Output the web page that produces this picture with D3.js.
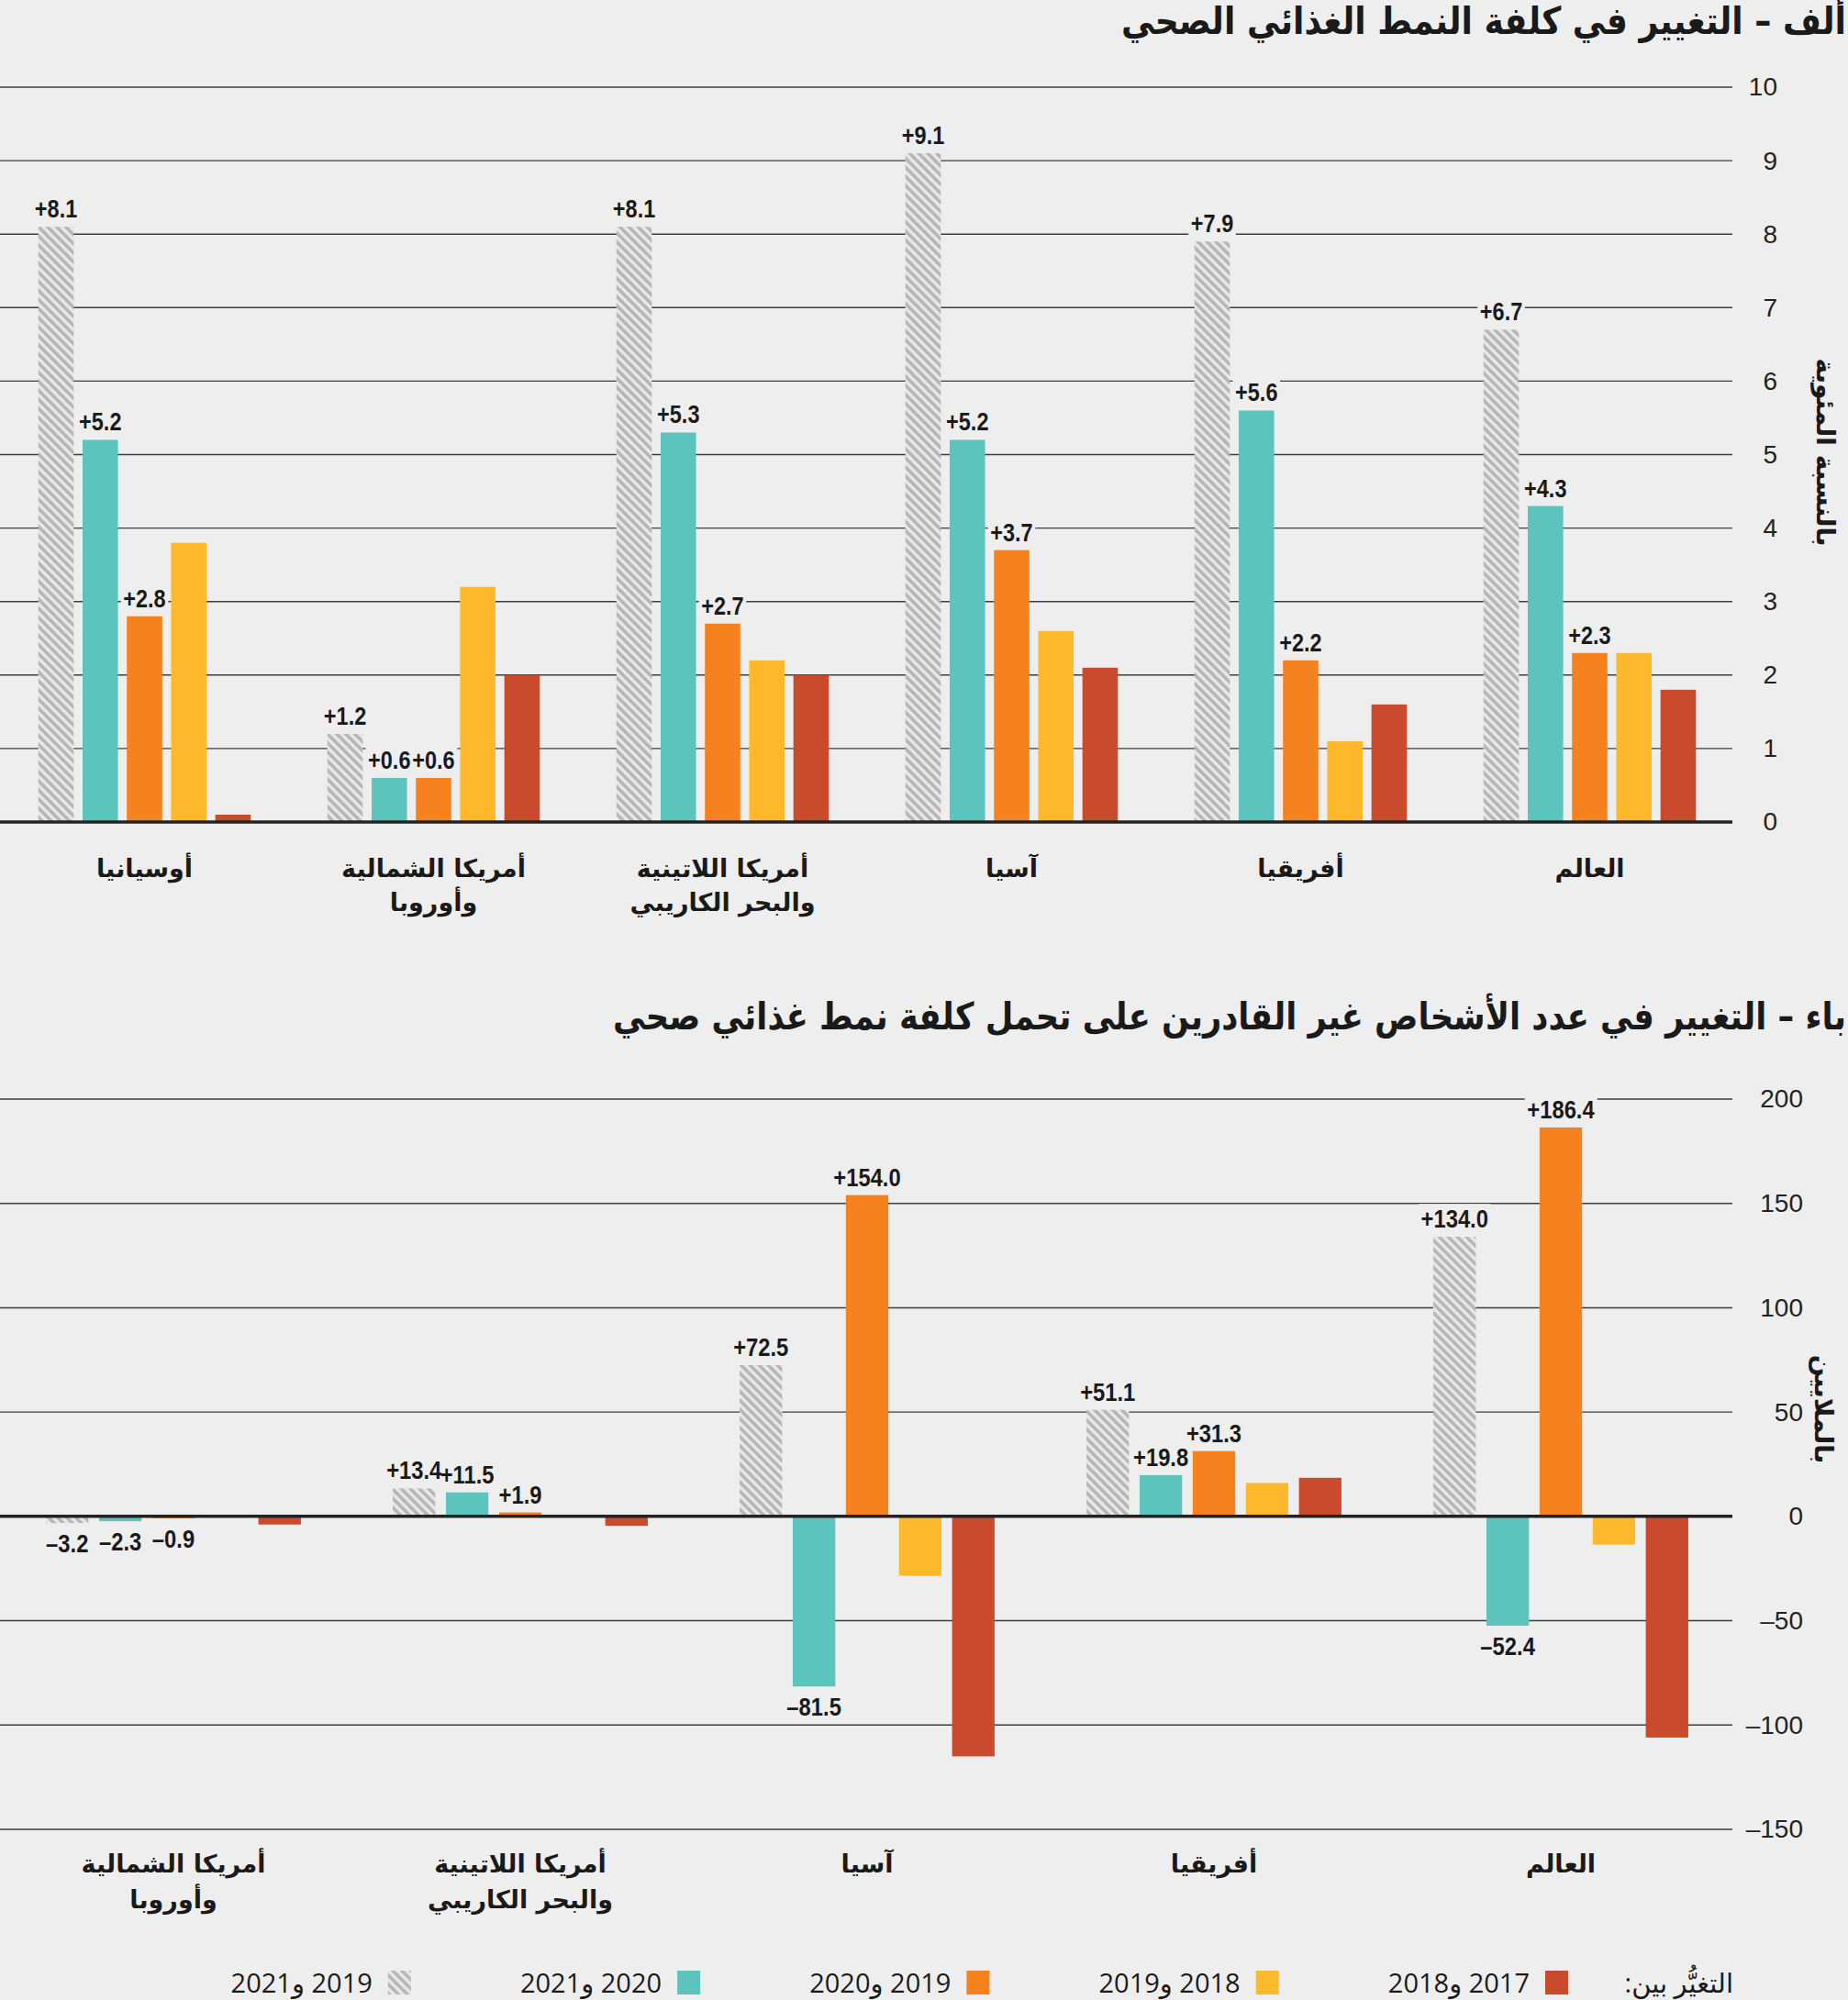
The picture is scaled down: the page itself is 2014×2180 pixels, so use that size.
<!DOCTYPE html>
<html><head><meta charset="utf-8">
<script src="https://cdn.jsdelivr.net/npm/d3@7"></script>
<style>
html,body{margin:0;padding:0;background:#eeeeee;}
svg{display:block;}
</style></head>
<body><svg id="chart" width="2014" height="2180"></svg>
<script>
// ---------- DATA ----------
const seriesLabels = ["2019 و2021","2020 و2021","2019 و2020","2018 و2019","2017 و2018"];
const seriesColors = ["url(#hatch)","#5cc3bd","#f5821f","#fdb92b","#c94a2c"];

const costTitle = "ألف – التغيير في كلفة النمط الغذائي الصحي";
const costAxisTitle = "بالنسبة المئوية";
const costCategories = ["أوسيانيا","أمريكا الشمالية|وأوروبا","أمريكا اللاتينية|والبحر الكاريبي","آسيا","أفريقيا","العالم"];
const cost1921 = [8.1,1.2,8.1,9.1,7.9,6.7];
const cost2021 = [5.2,0.6,5.3,5.2,5.6,4.3];
const cost1920 = [2.8,0.6,2.7,3.7,2.2,2.3];
const cost1819 = [3.8,3.2,2.2,2.6,1.1,2.3];
const cost1718 = [0.1,2.0,2.0,2.1,1.6,1.8];
const costTicks = [0,1,2,3,4,5,6,7,8,9,10];

const popTitle = "باء – التغيير في عدد الأشخاص غير القادرين على تحمل كلفة نمط غذائي صحي";
const popAxisTitle = "بالملايين";
const popCategories = ["أمريكا الشمالية|وأوروبا","أمريكا اللاتينية|والبحر الكاريبي","آسيا","أفريقيا","العالم"];
const pop1921 = [-3.2,13.4,72.5,51.1,134.0];
const pop2021 = [-2.3,11.5,-81.5,19.8,-52.4];
const pop1920 = [-0.9,1.9,154.0,31.3,186.4];
const pop1819 = [-0.6,0,-28.5,16.0,-13.5];
const pop1718 = [-3.9,-4.5,-115.0,18.5,-106.0];
const popTicks = [-150,-100,-50,0,50,100,150,200];

const legendTitle = "التغيُّر بين:";

// ---------- DRAW ----------
const W = 2014, H = 2180, BG = "#eeeeee";
const ARABIC = "'DejaVu Sans', 'Noto Sans', sans-serif";
const NARROW = "'Liberation Sans Narrow', 'Arial Narrow', 'Liberation Sans', sans-serif";
const svg = d3.select("#chart");
const defs = svg.append("defs");
const pat = defs.append("pattern").attr("id","hatch").attr("patternUnits","userSpaceOnUse")
  .attr("width",7).attr("height",7).attr("patternTransform","rotate(-45)");
pat.append("rect").attr("width",7).attr("height",7).attr("fill","#e9e9e9");
pat.append("rect").attr("width",3.6).attr("height",7).attr("fill","#b5b5b5");

svg.append("rect").attr("width",W).attr("height",H).attr("fill",BG);

const fmt = v => (v < 0 ? "\u2013" : "+") + Math.abs(v).toFixed(1);
const tickFmt = v => (v < 0 ? "\u2013" : "") + Math.abs(v);

function fitTitle(text, right, left, baseline, size){
  const g = svg.append("g");
  const t = g.append("text").attr("direction","rtl").attr("text-anchor","middle")
    .attr("font-family",ARABIC).attr("font-weight","bold").attr("font-size",size)
    .attr("fill","#1a1a1a").text(text);
  const w = t.node().getComputedTextLength();
  const target = right - left;
  g.attr("transform",`translate(${(right+left)/2},${baseline}) scale(${target/w},1)`);
}

function panel(o){
  const n = o.cats.length;
  const gridRight = 1888;
  const x0 = d3.scaleBand().domain(d3.range(n)).range([0,1890]).paddingInner(0.265).paddingOuter(0.1325);
  const x1 = d3.scaleBand().domain(d3.range(5)).range([0,x0.bandwidth()]).paddingInner(0.2).paddingOuter(0);
  const y = d3.scaleLinear().domain(o.domain).range(o.yRange);

  const g = svg.append("g");
  const gridG = g.append("g"), bgG = g.append("g"), barG = g.append("g"), baseG = g.append("g"), labG = g.append("g");

  gridG.selectAll("line").data(o.ticks.filter(t => t !== 0)).join("line")
    .attr("x1",0).attr("x2",gridRight).attr("y1",d=>y(d)).attr("y2",d=>y(d))
    .attr("stroke","#3c3c3c").attr("stroke-width",1.4);

  const ax = g.append("g").attr("transform",`translate(${o.tickRight},0)`)
    .call(d3.axisRight(y).tickValues(o.ticks).tickSize(0).tickFormat(tickFmt));
  ax.select(".domain").remove();
  ax.selectAll("text").attr("x",0).attr("text-anchor","end")
    .attr("font-family",NARROW).attr("font-size",28).attr("fill","#222");

  const rows = [];
  o.series.forEach((vals,s) => vals.forEach((v,i) => rows.push({i,s,v})));

  barG.selectAll("rect").data(rows).join("rect")
    .attr("x",d => x0(d.i) + x1(d.s))
    .attr("width",x1.bandwidth())
    .attr("y",d => y(Math.max(d.v,0)))
    .attr("height",d => Math.abs(y(d.v) - y(0)))
    .attr("fill",d => seriesColors[d.s]);

  baseG.append("line").attr("x1",0).attr("x2",gridRight).attr("y1",y(0)).attr("y2",y(0))
    .attr("stroke","#222").attr("stroke-width",3.5);

  const labRows = rows.filter(d => d.s < 3);
  const sx = o.labelCondense;
  labRows.forEach(d => {
    const cx = x0(d.i) + x1(d.s) + x1.bandwidth()/2;
    const cy = d.v >= 0 ? y(d.v) - 10 : y(d.v) + 32;
    const tg = labG.append("g").attr("transform",`translate(${cx},${cy}) scale(${sx},1)`);
    const t = tg.append("text").attr("text-anchor","middle").attr("font-family",NARROW)
      .attr("font-weight","bold").attr("font-size",o.labelSize).attr("fill","#1a1a1a")
      .text(fmt(d.v));
    const b = t.node().getBBox();
    bgG.append("rect").attr("transform",`translate(${cx},${cy}) scale(${sx},1)`)
      .attr("x",b.x-3).attr("y",b.y).attr("width",b.width+6).attr("height",b.height).attr("fill",BG);
  });

  // category labels
  o.cats.forEach((c,i) => {
    c.split("|").forEach((line,k) => {
      g.append("text").attr("direction","rtl").attr("text-anchor","middle")
        .attr("x",x0(i) + x0.bandwidth()/2).attr("y",o.catY + k*o.lineH)
        .attr("font-family",ARABIC).attr("font-weight","bold").attr("font-size",o.catSize)
        .attr("fill","#1a1a1a").text(line);
    });
  });

  // axis title
  g.append("text").attr("direction","rtl").attr("text-anchor","middle")
    .attr("transform",`translate(${o.axTitle[0]},${o.axTitle[1]}) rotate(90)`)
    .attr("dy","0.35em")
    .attr("font-family",ARABIC).attr("font-weight","bold").attr("font-size",28)
    .attr("fill","#1a1a1a").text(o.axisTitle);
}

fitTitle(costTitle, 2012, 1222, 37, 41);
panel({cats:costCategories, series:[cost1921,cost2021,cost1920,cost1819,cost1718],
  ticks:costTicks, domain:[0,10], yRange:[896,95], tickRight:1937,
  labelSize:27, labelCondense:0.87, catY:956, lineH:37, catSize:27, axTitle:[1990,493], axisTitle:costAxisTitle});

fitTitle(popTitle, 2012, 668, 1122, 41);
panel({cats:popCategories, series:[pop1921,pop2021,pop1920,pop1819,pop1718],
  ticks:popTicks, domain:[-150,200], yRange:[1994,1198], tickRight:1965,
  labelSize:28, labelCondense:0.85, catY:2041, lineH:39, catSize:27, axTitle:[1988,1536], axisTitle:popAxisTitle});

// legend
const lg = svg.append("g");
const legendY = 2148;
const lt = lg.append("text").attr("direction","rtl").attr("text-anchor","middle")
  .attr("font-family","'Open Sans', "+ARABIC).attr("font-size",29).attr("fill","#1a1a1a")
  .attr("y",legendY+24).text(legendTitle);
const ltw = lt.node().getComputedTextLength();
lt.attr("x",1889 - ltw/2);
const order = [4,3,2,1,0];
order.forEach((s,k) => {
  const sx = 1684 - k*315.3;
  lg.append("rect").attr("x",sx).attr("y",legendY).attr("width",25).attr("height",26).attr("fill",seriesColors[s]);
  const t = lg.append("text").attr("direction","rtl").attr("text-anchor","middle")
    .attr("font-family","'Open Sans', "+ARABIC).attr("font-size",29).attr("fill","#1a1a1a")
    .attr("y",legendY+24).text(seriesLabels[s]);
  const w = t.node().getComputedTextLength();
  t.attr("x", sx - 17 - w/2);
});
</script>
</body></html>
